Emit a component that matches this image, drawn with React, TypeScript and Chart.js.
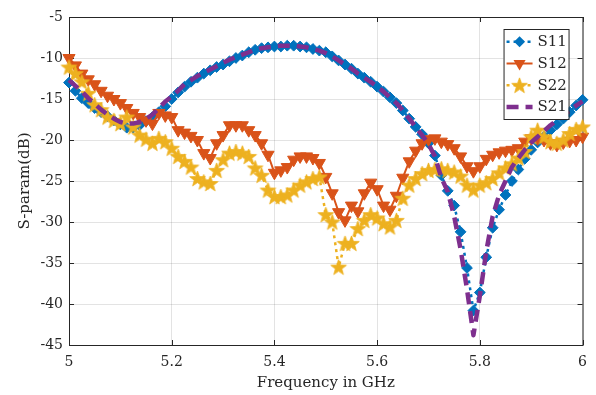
import React, { useEffect, useRef } from "react";
import { Chart, registerables } from "chart.js";

Chart.register(...registerables);

// Frequency sampling grid (GHz)
const freqs: number[] = [
  5.0, 5.0125, 5.025, 5.0375, 5.05, 5.0625, 5.075, 5.0875, 5.1, 5.1125,
  5.125, 5.1375, 5.15, 5.1625, 5.175, 5.1875, 5.2, 5.2125, 5.225, 5.2375,
  5.25, 5.2625, 5.275, 5.2875, 5.3, 5.3125, 5.325, 5.3375, 5.35, 5.3625,
  5.375, 5.3875, 5.4, 5.4125, 5.425, 5.4375, 5.45, 5.4625, 5.475, 5.4875,
  5.5, 5.5125, 5.525, 5.5375, 5.55, 5.5625, 5.575, 5.5875, 5.6, 5.6125,
  5.625, 5.6375, 5.65, 5.6625, 5.675, 5.6875, 5.7, 5.7125, 5.725, 5.7375,
  5.75, 5.7625, 5.775, 5.7875, 5.8, 5.8125, 5.825, 5.8375, 5.85, 5.8625,
  5.875, 5.8875, 5.9, 5.9125, 5.925, 5.9375, 5.95, 5.9625, 5.975, 5.9875,
  6.0,
];

const s11: number[] = [
  -13.0, -14.0, -14.9, -15.5, -16.1, -16.6, -17.1, -17.6, -18.1, -18.5,
  -18.5, -18.2, -17.7, -17.2, -16.6, -15.9, -15.0, -14.2, -13.5, -12.9,
  -12.4, -11.9, -11.5, -11.1, -10.8, -10.4, -10.0, -9.7, -9.3, -9.0,
  -8.8, -8.7, -8.6, -8.6, -8.5, -8.5, -8.6, -8.7, -8.9, -9.1,
  -9.3, -9.8, -10.3, -10.8, -11.3, -11.9, -12.4, -12.9, -13.5, -14.1,
  -14.8, -15.5, -16.4, -17.4, -18.4, -19.3, -20.4, -21.9, -24.3, -26.2,
  -28.0, -31.2, -35.6, -40.8, -38.6, -34.3, -30.7, -28.5, -26.7, -25.0,
  -23.6, -22.3, -21.2, -20.3, -19.6, -18.8, -18.1, -17.4, -16.6, -15.8,
  -15.1,
];

const s12: number[] = [
  -10.0, -10.9, -11.9, -12.6, -13.2, -14.0, -14.6, -15.0, -15.5, -16.1,
  -16.7, -17.2, -17.6, -18.0, -16.7, -17.0, -17.2, -18.8, -19.1, -19.5,
  -20.0, -21.6, -22.2, -20.4, -19.4, -18.2, -18.2, -18.2, -18.8, -19.4,
  -20.4, -21.8, -24.0, -23.7, -23.3, -22.4, -22.0, -22.0, -22.2, -22.8,
  -24.5, -26.5, -28.8, -29.8, -28.0, -28.7, -26.5, -25.2, -26.0, -28.0,
  -28.5, -26.8, -24.6, -22.6, -21.3, -20.4, -19.9, -19.8, -20.2, -20.5,
  -21.0, -22.0, -23.2, -23.8, -23.2, -22.3, -21.8, -21.5, -21.3, -21.2,
  -21.0, -20.2, -19.8, -19.8, -20.0, -20.4, -20.6, -20.3, -20.1, -20.0,
  -19.6,
];

const s22: number[] = [
  -11.1, -11.9, -12.9, -14.3, -15.7, -16.3, -17.2, -17.6, -18.0, -17.2,
  -18.4, -19.4, -19.9, -20.4, -19.8, -20.2, -21.0, -22.0, -22.6, -23.3,
  -24.7, -25.1, -25.3, -23.7, -22.4, -21.6, -21.4, -21.6, -22.0, -23.4,
  -24.3, -26.1, -26.9, -26.9, -26.7, -26.1, -25.5, -25.1, -24.7, -24.5,
  -29.1, -30.0, -35.5, -32.6, -32.6, -30.8, -29.8, -29.1, -29.5, -30.2,
  -30.6, -29.8, -27.1, -25.5, -24.7, -24.1, -23.7, -23.6, -23.5, -23.7,
  -23.9, -24.4, -25.5, -26.1, -25.5, -25.2, -24.7, -24.0, -23.4, -22.9,
  -22.2, -21.4, -19.6, -18.8, -19.6, -20.2, -20.4, -20.0, -19.2, -18.7,
  -18.4,
];

const s21: number[] = [
  -12.7, -13.4, -14.1, -14.9, -15.6, -16.3, -16.9, -17.4, -17.8, -18.0,
  -18.0, -17.8, -17.4, -16.9, -16.1, -15.3, -14.7, -14.0, -13.2, -12.7,
  -12.2, -11.8, -11.4, -11.0, -10.6, -10.2, -9.9, -9.6, -9.3, -9.0,
  -8.8, -8.7, -8.6, -8.5, -8.5, -8.5, -8.6, -8.7, -8.9, -9.1,
  -9.4, -9.8, -10.3, -10.8, -11.3, -11.9, -12.4, -12.9, -13.5, -14.1,
  -14.8, -15.5, -16.4, -17.4, -18.4, -19.4, -20.5, -22.0, -24.6, -26.3,
  -29.3, -33.3, -38.2, -43.8, -39.0, -33.6, -29.3, -26.7, -25.0, -23.3,
  -22.2, -21.2, -20.3, -19.6, -18.9, -18.2, -17.6, -17.0, -16.4, -15.8,
  -15.3,
];

const seriesNames = ["S11", "S12", "S22", "S21"];
const xTicks = [5, 5.2, 5.4, 5.6, 5.8, 6];
const yTicks = [-45, -40, -35, -30, -25, -20, -15, -10, -5];

const BLUE = "#0072BD";
const ORANGE = "#D95319";
const YELLOW = "#EDB120";
const PURPLE = "#7E2F8E";
const AXIS = "#262626";
const FONT = "DejaVu Serif";

function makeStar(color: string, outer: number, inner: number): HTMLCanvasElement {
  const size = Math.ceil(outer * 2 + 2);
  const c = document.createElement("canvas");
  c.width = size;
  c.height = size;
  const ctx = c.getContext("2d")!;
  const cx = size / 2;
  const cy = size / 2 + 0.7;
  ctx.beginPath();
  for (let k = 0; k < 10; k++) {
    const r = k % 2 === 0 ? outer : inner;
    const a = -Math.PI / 2 + (k * Math.PI) / 5;
    const px = cx + r * Math.cos(a);
    const py = cy + r * Math.sin(a);
    if (k === 0) ctx.moveTo(px, py);
    else ctx.lineTo(px, py);
  }
  ctx.closePath();
  ctx.fillStyle = color;
  ctx.fill();
  ctx.strokeStyle = color;
  ctx.lineWidth = 0.8;
  ctx.stroke();
  return c;
}

function toPoints(ys: number[]) {
  return freqs.map((f, i) => ({ x: f, y: ys[i] }));
}

export default function App() {
  const ref = useRef<HTMLCanvasElement>(null);

  useEffect(() => {
    const canvas = ref.current!;
    const star = makeStar(YELLOW, 8.2, 3.4);

    const legendStyles = [
      { color: BLUE, dash: [3, 4], width: 2.5, marker: "diamond" },
      { color: ORANGE, dash: [], width: 2, marker: "triangle" },
      { color: YELLOW, dash: [3, 4], width: 2.5, marker: "star" },
      { color: PURPLE, dash: [12, 7], width: 4.5, marker: "none" },
    ];

    const framePlugin = {
      id: "frame",
      beforeDatasetsDraw(chart: any) {
        const { ctx, chartArea: a, scales } = chart;
        ctx.save();
        ctx.strokeStyle = AXIS;
        ctx.lineWidth = 1;
        ctx.strokeRect(a.left + 0.5, a.top + 0.5, a.right - a.left, a.bottom - a.top);
        ctx.beginPath();
        xTicks.forEach((v) => {
          const px = Math.round(scales.x.getPixelForValue(v)) + 0.5;
          ctx.moveTo(px, a.bottom);
          ctx.lineTo(px, a.bottom - 5);
          ctx.moveTo(px, a.top);
          ctx.lineTo(px, a.top + 5);
        });
        yTicks.forEach((v) => {
          const py = Math.round(scales.y.getPixelForValue(v)) + 0.5;
          ctx.moveTo(a.left, py);
          ctx.lineTo(a.left + 5, py);
          ctx.moveTo(a.right, py);
          ctx.lineTo(a.right - 5, py);
        });
        ctx.stroke();
        ctx.restore();
      },
    };

    const legendPlugin = {
      id: "matlabLegend",
      afterDraw(chart: any) {
        const { ctx, chartArea: a } = chart;
        const bx = a.right - 79;
        const by = a.top + 12;
        const bw = 65;
        const bh = 90;
        ctx.save();
        ctx.fillStyle = "#ffffff";
        ctx.fillRect(bx, by, bw, bh);
        ctx.strokeStyle = AXIS;
        ctx.lineWidth = 1;
        ctx.strokeRect(bx + 0.5, by + 0.5, bw, bh);
        seriesNames.forEach((name, i) => {
          const st = legendStyles[i];
          const cy = by + 12.7 + i * 21.8;
          const x1 = bx + 3;
          const x2 = bx + 29;
          const mx = bx + 16;
          ctx.save();
          ctx.setLineDash(st.dash);
          ctx.lineWidth = st.width;
          ctx.strokeStyle = st.color;
          ctx.beginPath();
          ctx.moveTo(x1, cy);
          ctx.lineTo(x2, cy);
          ctx.stroke();
          ctx.restore();
          ctx.fillStyle = st.color;
          if (st.marker === "diamond") {
            const r = 5.5;
            ctx.beginPath();
            ctx.moveTo(mx - r, cy);
            ctx.lineTo(mx, cy - r);
            ctx.lineTo(mx + r, cy);
            ctx.lineTo(mx, cy + r);
            ctx.closePath();
            ctx.fill();
          } else if (st.marker === "triangle") {
            const r = 7;
            ctx.beginPath();
            ctx.moveTo(mx, cy + r);
            ctx.lineTo(mx - 0.866 * r, cy - 0.5 * r);
            ctx.lineTo(mx + 0.866 * r, cy - 0.5 * r);
            ctx.closePath();
            ctx.fill();
          } else if (st.marker === "star") {
            ctx.drawImage(star, mx - star.width / 2, cy - star.height / 2);
          }
          ctx.fillStyle = AXIS;
          ctx.font = `15px "${FONT}"`;
          ctx.textBaseline = "middle";
          ctx.textAlign = "left";
          ctx.fillText(name, bx + 34, cy + 0.5);
        });
        ctx.restore();
      },
    };

    const chart = new Chart(canvas, {
      type: "line",
      data: {
        datasets: [
          {
            label: seriesNames[0],
            data: toPoints(s11),
            borderColor: BLUE,
            backgroundColor: BLUE,
            borderWidth: 2.5,
            borderDash: [3, 4],
            borderJoinStyle: "round",
            pointStyle: "rectRot",
            pointRadius: 5.4,
            pointBorderWidth: 1,
            pointBorderColor: BLUE,
            pointBackgroundColor: BLUE,
            tension: 0,
            clip: false,
            order: 3,
          },
          {
            label: seriesNames[1],
            data: toPoints(s12),
            borderColor: ORANGE,
            backgroundColor: ORANGE,
            borderWidth: 2,
            borderJoinStyle: "round",
            pointStyle: "triangle",
            pointRotation: 180,
            pointRadius: 7,
            pointBorderWidth: 1,
            pointBorderColor: ORANGE,
            pointBackgroundColor: ORANGE,
            tension: 0,
            clip: false,
            order: 2,
          },
          {
            label: seriesNames[2],
            data: toPoints(s22),
            borderColor: YELLOW,
            backgroundColor: YELLOW,
            borderWidth: 2.5,
            borderDash: [3, 4],
            borderJoinStyle: "round",
            pointStyle: star as any,
            pointRadius: 8,
            tension: 0,
            clip: false,
            order: 1,
          },
          {
            label: seriesNames[3],
            data: toPoints(s21),
            borderColor: PURPLE,
            backgroundColor: PURPLE,
            borderWidth: 4.5,
            borderDash: [12, 7],
            borderJoinStyle: "round",
            pointRadius: 0,
            tension: 0,
            clip: false,
            order: 0,
          },
        ] as any,
      },
      options: {
        responsive: false,
        animation: false,
        events: [],
        layout: { padding: { left: 0, right: 13, top: 17, bottom: 0 } },
        plugins: {
          legend: { display: false },
          tooltip: { enabled: false },
          title: { display: false },
        },
        scales: {
          x: {
            type: "linear",
            min: 5,
            max: 6,
            afterBuildTicks: (s: any) => {
              s.ticks = xTicks.map((v) => ({ value: v }));
            },
            afterFit: (s: any) => {
              s.height = 50;
            },
            grid: { color: "rgba(38,38,38,0.13)", lineWidth: 1, drawTicks: false },
            border: { display: false },
            ticks: {
              color: AXIS,
              font: { family: FONT, size: 14 },
              padding: 9,
              maxRotation: 0,
              autoSkip: false,
              callback: (v: any) => String(v),
            },
            title: {
              display: true,
              text: "Frequency in GHz",
              color: AXIS,
              font: { family: FONT, size: 15 },
              padding: { top: 0, bottom: 3 },
            },
          },
          y: {
            type: "linear",
            min: -45,
            max: -5,
            afterBuildTicks: (s: any) => {
              s.ticks = yTicks.map((v) => ({ value: v }));
            },
            afterFit: (s: any) => {
              s.width = 69;
            },
            grid: { color: "rgba(38,38,38,0.13)", lineWidth: 1, drawTicks: false },
            border: { display: false },
            ticks: {
              color: AXIS,
              font: { family: FONT, size: 14 },
              padding: 6,
              autoSkip: false,
              callback: (v: any) => String(v),
            },
            title: {
              display: true,
              text: "S-param(dB)",
              color: AXIS,
              font: { family: FONT, size: 15 },
              padding: { top: 16, bottom: 0 },
            },
          },
        },
      },
      plugins: [framePlugin, legendPlugin],
    } as any);

    return () => chart.destroy();
  }, []);

  return (
    <div style={{ position: "absolute", left: 0, top: 0, width: 596, height: 395, background: "#ffffff" }}>
      <canvas ref={ref} width={596} height={395} style={{ display: "block" }} />
    </div>
  );
}
